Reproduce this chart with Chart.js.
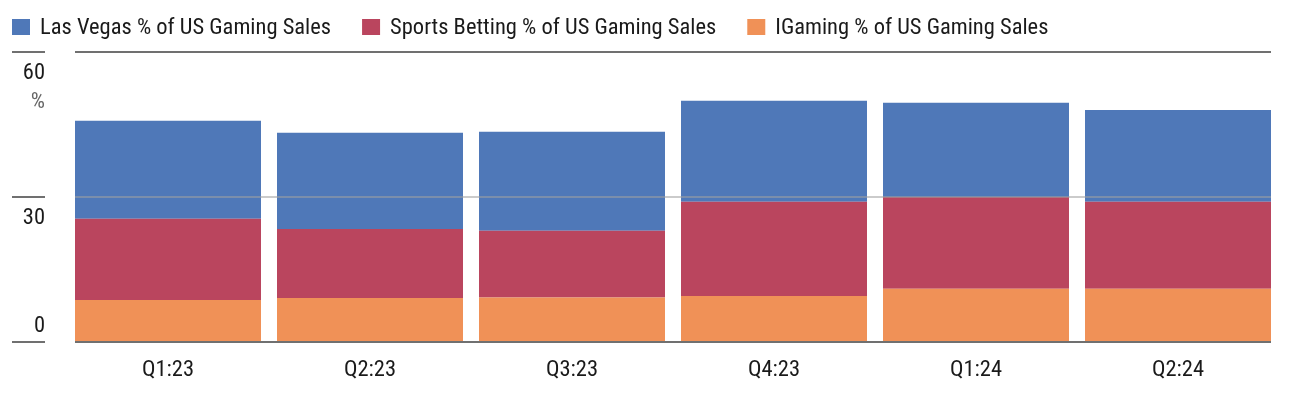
<!DOCTYPE html>
<html>
<head>
<meta charset="utf-8">
<script src="https://cdn.jsdelivr.net/npm/chart.js@4/dist/chart.umd.min.js"></script>
<style>
  html, body { margin: 0; padding: 0; background: #fff; }
  #wrap { width: 1292px; height: 396px; position: relative; }
</style>
</head>
<body>
<div id="wrap"><canvas id="chart"></canvas></div>
<script>
const FONT = '"Roboto Condensed", "Roboto", sans-serif';
const FSIZE = 22.5;

// ── Data ───────────────────────────────────────────────────────
const quarters = ['Q1:23', 'Q2:23', 'Q3:23', 'Q4:23', 'Q1:24', 'Q2:24'];
const iGaming  = [8.7, 9.1, 9.2, 9.5, 11.0, 11.0];
const sports   = [16.8, 14.3, 13.8, 19.5, 19.0, 18.0];
const vegas    = [20.3, 19.9, 20.5, 20.9, 19.5, 19.0];
const yTicks   = [0, 30, 60];

const seriesNames  = ['IGaming % of US Gaming Sales', 'Sports Betting % of US Gaming Sales', 'Las Vegas % of US Gaming Sales'];
const seriesColors = ['#F09157', '#BA455E', '#4F78B8'];
const legendOrder  = [2, 1, 0];

// ── Plugins ────────────────────────────────────────────────────
const legendPlugin = {
  id: 'topLegend',
  afterDraw(chart) {
    const ctx = chart.ctx;
    ctx.save();
    ctx.font = FSIZE + 'px ' + FONT;
    ctx.textBaseline = 'middle';
    ctx.textAlign = 'left';
    let x = 12;
    legendOrder.forEach(i => {
      const ds = chart.data.datasets[i];
      ctx.fillStyle = ds.backgroundColor;
      ctx.fillRect(x, 19, 18, 16);
      ctx.fillStyle = '#1a1a1a';
      ctx.fillText(ds.label, x + 28, 28);
      x += 28 + ctx.measureText(ds.label).width + 31;
    });
    ctx.restore();
  }
};

// gridlines span the bars only, short ticks + labels sit left of the plot
const yAxisPlugin = {
  id: 'yDecor',
  afterDatasetsDraw(chart) {
    const ctx = chart.ctx, y = chart.scales.y;
    const bars = chart.getDatasetMeta(0).data;
    const x0 = bars[0].x - bars[0].width / 2;
    const x1 = bars[bars.length - 1].x + bars[bars.length - 1].width / 2;
    ctx.save();
    ctx.font = FSIZE + 'px ' + FONT;
    ctx.textAlign = 'right';
    ctx.textBaseline = 'middle';
    yTicks.forEach(v => {
      const py = Math.round(y.getPixelForValue(v));
      const mid = v !== 0 && v !== 60;
      ctx.lineWidth = 2;
      ctx.strokeStyle = mid ? 'rgba(160,160,160,0.55)' : '#707070';
      ctx.beginPath();
      ctx.moveTo(x0, py);
      ctx.lineTo(x1, py);
      ctx.stroke();
      ctx.strokeStyle = '#707070';
      ctx.beginPath();
      ctx.moveTo(12, py);
      ctx.lineTo(45, py);
      ctx.stroke();
      ctx.fillStyle = '#1a1a1a';
      ctx.fillText(String(v), 45, v === 0 ? py - 16 : py + 21);
      if (v === 60) {
        ctx.fillStyle = '#666';
        ctx.fillText('%', 45, py + 50);
      }
    });
    ctx.restore();
  }
};

// ── Chart ──────────────────────────────────────────────────────
const values = [iGaming, sports, vegas];
new Chart(document.getElementById('chart'), {
  type: 'bar',
  data: {
    labels: quarters,
    datasets: values.map((d, i) => ({
      label: seriesNames[i],
      data: d,
      backgroundColor: seriesColors[i],
      borderWidth: 0,
      barPercentage: 186 / 202,
      categoryPercentage: 1,
    }))
  },
  options: {
    responsive: true,
    maintainAspectRatio: false,
    animation: false,
    layout: { padding: { top: 52, left: 0, right: 13, bottom: 0 } },
    plugins: { legend: { display: false }, tooltip: { enabled: false } },
    scales: {
      x: {
        stacked: true,
        grid: { display: false, drawTicks: false },
        border: { display: false },
        ticks: { color: '#1a1a1a', font: { family: FONT, size: FSIZE }, padding: 15, maxRotation: 0 },
        afterFit: s => { s.height = 54; }
      },
      y: {
        stacked: true,
        min: 0, max: 60,
        afterBuildTicks: s => { s.ticks = yTicks.map(v => ({ value: v })); },
        ticks: { display: false },
        grid: { display: false },
        border: { display: false },
        afterFit: s => { s.width = 67; }
      }
    }
  },
  plugins: [legendPlugin, yAxisPlugin]
});
</script>
</body>
</html>
